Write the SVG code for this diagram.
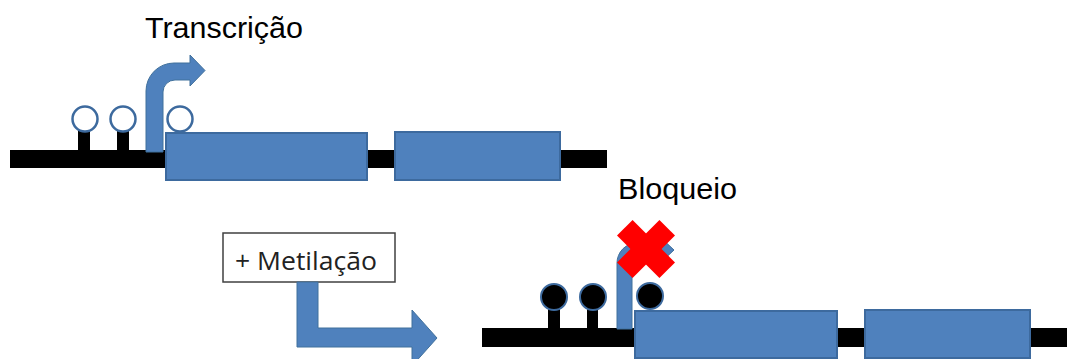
<svg xmlns="http://www.w3.org/2000/svg" width="1067" height="359" viewBox="0 0 1067 359">
  <style>
    .dna { fill: #000000; }
    .exon { fill: #4f81bd; stroke: #3d6a9e; stroke-width: 2; }
    .arrow { fill: #4f81bd; stroke: #41719c; stroke-width: 1; }
    .open { fill: #ffffff; stroke: #3d6a9e; stroke-width: 2.5; }
    .meth { fill: #000000; stroke: #3d6a9e; stroke-width: 2; }
    .lbl { font-family: "Liberation Sans", Arial, sans-serif; font-size: 30px; fill: #000000; }
    .box { fill: #ffffff; stroke: #404040; stroke-width: 1.5; }
    .boxlbl { font-family: "Open Sans", "Liberation Sans", sans-serif; font-size: 25px; fill: #222222; }
  </style>
  <rect width="1067" height="359" fill="#ffffff"/>

  <g id="gene-active">
    <rect class="dna" x="10" y="150" width="597" height="18"/>
    <rect class="dna" x="78" y="128" width="12" height="23"/>
    <rect class="dna" x="117" y="128" width="12" height="23"/>
    <circle class="open" cx="85" cy="119" r="12.5"/>
    <circle class="open" cx="123" cy="119" r="12.5"/>
    <circle class="open" cx="180" cy="119" r="12.5"/>
    <path class="arrow" d="M146,152 L146,91 A28,28 0 0 1 174,63 L190,63 L190,55 L205,70.5 L190,86 L190,80 L175,80 A12,12 0 0 0 163,92 L163,152 Z"/>
    <rect class="exon" x="166" y="133" width="201" height="47"/>
    <rect class="exon" x="395" y="132" width="165" height="48"/>
  </g>

  <g id="label-transcricao">
    <text class="lbl" x="145" y="38" textLength="158" lengthAdjust="spacingAndGlyphs">Transcrição</text>
  </g>

  <g id="node-metilacao">
    <rect class="box" x="223" y="233" width="172" height="49"/>
    <text class="boxlbl" x="235" y="270" textLength="142" lengthAdjust="spacingAndGlyphs">+ Metilação</text>
  </g>

  <g id="connectors">
    <path class="arrow" d="M297,282 L318,282 L318,328 L412,328 L412,310 L437,338 L412,366 L412,347 L297,347 Z"/>
  </g>

  <g id="gene-blocked">
    <rect class="dna" x="482" y="328" width="585" height="19"/>
    <rect class="dna" x="548" y="308" width="12" height="21"/>
    <rect class="dna" x="587" y="308" width="11" height="21"/>
    <circle class="meth" cx="554" cy="297" r="13"/>
    <circle class="meth" cx="593" cy="297" r="13"/>
    <circle class="meth" cx="650" cy="296" r="13"/>
    <path class="arrow" d="M617,329 L617,263 A20,20 0 0 1 637,243 L658,243 L658,235 L674,250 L658,265 L658,257 L641,257 A9,9 0 0 0 632,266 L632,329 Z"/>
    <rect class="exon" x="635" y="311" width="202" height="47"/>
    <rect class="exon" x="865" y="310" width="165" height="48"/>
  </g>

  <g id="block-x">
    <g transform="translate(646,249) rotate(45)">
      <rect x="-30" y="-11" width="60" height="22" fill="#ff0000"/>
      <rect x="-11" y="-30" width="22" height="60" fill="#ff0000"/>
    </g>
  </g>

  <g id="label-bloqueio">
    <text class="lbl" x="618" y="199" textLength="119" lengthAdjust="spacingAndGlyphs">Bloqueio</text>
  </g>
</svg>
